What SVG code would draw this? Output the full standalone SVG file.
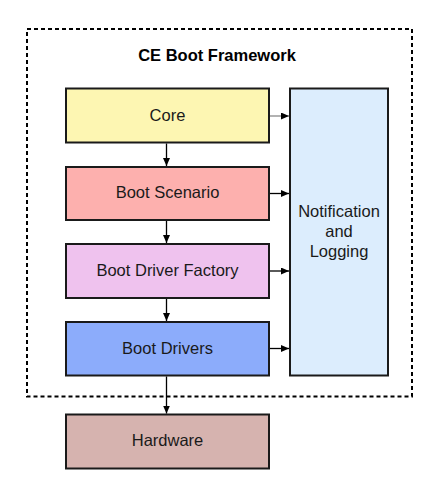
<svg xmlns="http://www.w3.org/2000/svg" width="441" height="499" viewBox="0 0 441 499">
<defs>
<marker id="ah" markerWidth="8" markerHeight="7" refX="8" refY="3.5" orient="auto" markerUnits="userSpaceOnUse">
<path d="M0,0 L8,3.5 L0,7 Z" fill="#000"/>
</marker>
<style>
.box{stroke:#1a1a1a;stroke-width:2}
.lbl{font-family:"Liberation Sans",Arial,sans-serif;font-size:16.5px;fill:#1a1a1a;text-anchor:middle}
.ttl{font-family:"Liberation Sans",Arial,sans-serif;font-size:16.5px;font-weight:bold;fill:#000;text-anchor:middle}
.con{stroke:#000;stroke-width:1.3;fill:none;marker-end:url(#ah)}
</style>
</defs>
<rect width="441" height="499" fill="#fff"/>
<g id="framework">
<rect x="27" y="29" width="385" height="367.5" fill="none" stroke="#000" stroke-width="2" stroke-dasharray="4,3"/>
<text class="ttl" x="217" y="61">CE Boot Framework</text>
</g>
<g id="notification">
<rect class="box" x="290" y="88.5" width="98" height="287" fill="#dcedfd"/>
<text class="lbl" x="339" y="217">Notification</text>
<text class="lbl" x="339" y="237">and</text>
<text class="lbl" x="339" y="257">Logging</text>
</g>
<g id="core">
<rect class="box" x="66" y="88.5" width="203" height="54" fill="#fdf6b2"/>
<text class="lbl" x="167.5" y="120.5">Core</text>
</g>
<g id="scenario">
<rect class="box" x="66" y="167" width="203" height="53" fill="#fdb0ae"/>
<text class="lbl" x="167.5" y="198">Boot Scenario</text>
</g>
<g id="factory">
<rect class="box" x="66" y="244" width="203" height="54" fill="#efc2ee"/>
<text class="lbl" x="167.5" y="276">Boot Driver Factory</text>
</g>
<g id="drivers">
<rect class="box" x="66" y="322" width="203" height="53.5" fill="#8cacfb"/>
<text class="lbl" x="167.5" y="353.5">Boot Drivers</text>
</g>
<g id="hardware">
<rect class="box" x="66" y="414.5" width="203" height="54" fill="#d6b3af"/>
<text class="lbl" x="167.5" y="446">Hardware</text>
</g>
<g id="connectors">
<line class="con" x1="166.5" y1="143.5" x2="166.5" y2="166"/>
<line class="con" x1="166.5" y1="221" x2="166.5" y2="243"/>
<line class="con" x1="166.5" y1="299" x2="166.5" y2="321"/>
<line class="con" x1="166.5" y1="376.5" x2="166.5" y2="413.5"/>
<line class="con" x1="270" y1="116" x2="289" y2="116" style="stroke:#888"/>
<line class="con" x1="270" y1="193.5" x2="289" y2="193.5"/>
<line class="con" x1="270" y1="271" x2="289" y2="271"/>
<line class="con" x1="270" y1="348.5" x2="289" y2="348.5"/>
</g>
</svg>
